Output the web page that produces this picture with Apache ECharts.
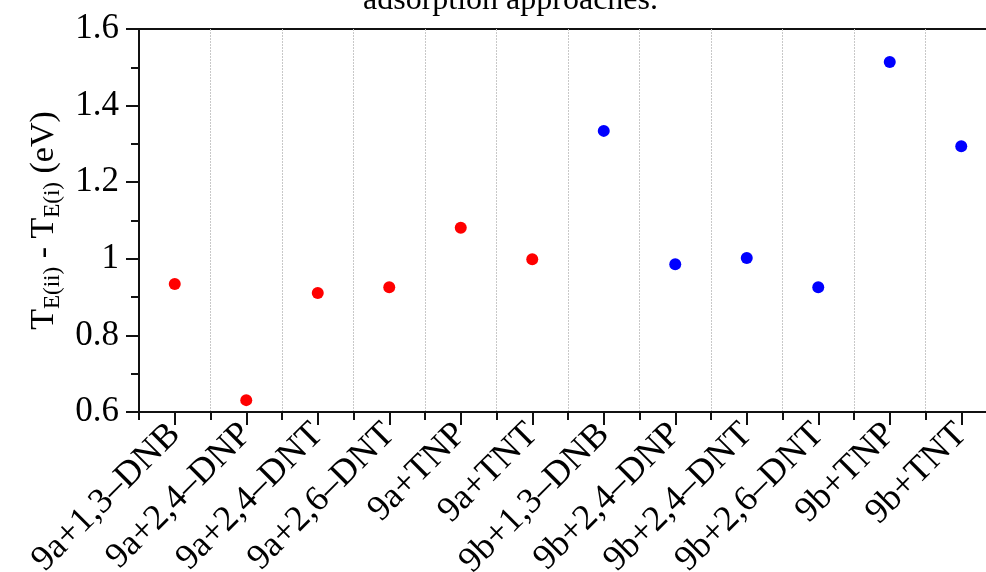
<!DOCTYPE html>
<html>
<head>
<meta charset="utf-8">
<script src="https://cdn.jsdelivr.net/npm/echarts@6/dist/echarts.min.js"></script>
<style>
  html, body { margin: 0; padding: 0; background: #fff; }
  #chart { width: 986px; height: 572px; }
</style>
</head>
<body>
<div id="chart"></div>
<script>
// Complexes of 9a and 9b with nitroaromatics
const categories = [
  '9a+1,3–DNB', '9a+2,4–DNP', '9a+2,4–DNT', '9a+2,6–DNT', '9a+TNP', '9a+TNT',
  '9b+1,3–DNB', '9b+2,4–DNP', '9b+2,4–DNT', '9b+2,6–DNT', '9b+TNP', '9b+TNT'
];
// Energy difference T_E(ii) - T_E(i), eV
const values9a = [0.934, 0.631, 0.911, 0.926, 1.081, 0.999];
const values9b = [1.334, 0.986, 1.002, 0.926, 1.514, 1.294];
const yTicks = { min: 0.6, max: 1.6, step: 0.2 };

const FONT = '"Liberation Serif", "Times New Roman", serif';

const pairs9a = values9a.map((v, i) => [categories[i], v]);
const pairs9b = values9b.map((v, i) => [categories[i + values9a.length], v]);

const chart = echarts.init(document.getElementById('chart'), null, { renderer: 'canvas' });

chart.setOption({
  animation: false,
  backgroundColor: '#ffffff',
  title: {
    text: 'adsorption approaches.',
    left: 358,
    top: -22,
    textStyle: { fontFamily: FONT, fontSize: 32, fontWeight: 'normal', color: '#000', lineHeight: 36 }
  },
  grid: {
    left: 139, top: 29, right: -11, bottom: 160,
    containLabel: false,
    outerBoundsMode: 'none',
    show: true, borderColor: '#111', borderWidth: 2, backgroundColor: 'transparent'
  },
  xAxis: [
    {
      // boundary ticks and dotted separators between categories
      type: 'category',
      data: categories,
      position: 'bottom',
      boundaryGap: true,
      axisLine: { show: true, lineStyle: { color: '#111', width: 2 } },
      axisTick: { show: true, interval: 0, length: 8, lineStyle: { color: '#111', width: 2 } },
      axisLabel: { show: false },
      splitLine: { show: true, interval: 0, lineStyle: { color: '#c8c8c8', width: 1, type: [2, 1] } }
    },
    {
      // centred ticks and rotated category labels
      type: 'category',
      data: categories,
      position: 'bottom',
      boundaryGap: true,
      axisLine: { show: false },
      axisTick: { show: true, interval: 0, alignWithLabel: true, length: 13, lineStyle: { color: '#111', width: 2 } },
      axisLabel: {
        interval: 0, rotate: 45, margin: 17,
        fontFamily: FONT, fontSize: 36, color: '#000'
      },
      splitLine: { show: false }
    }
  ],
  yAxis: {
    type: 'value',
    min: yTicks.min,
    max: yTicks.max,
    interval: yTicks.step,
    axisLine: { show: true, lineStyle: { color: '#111', width: 2 } },
    axisTick: { show: true, length: 13, lineStyle: { color: '#111', width: 2 } },
    minorTick: { show: true, splitNumber: 2, length: 8, lineStyle: { color: '#111', width: 2 } },
    splitLine: { show: false },
    axisLabel: {
      margin: 20, fontFamily: FONT, fontSize: 35, color: '#000',
      formatter: v => String(Math.round(v * 10) / 10)
    },
    name: '{m|T}{s|E(ii)}{m| - T}{s|E(i)}{m| (eV)}',
    nameLocation: 'middle',
    nameRotate: 90,
    nameGap: 74,
    nameTextStyle: {
      fontFamily: FONT, color: '#000',
      rich: {
        m: { fontFamily: FONT, fontSize: 34, color: '#000', lineHeight: 40, verticalAlign: 'middle' },
        s: { fontFamily: FONT, fontSize: 23, color: '#000', lineHeight: 24, verticalAlign: 'bottom' }
      }
    }
  },
  series: [
    {
      type: 'scatter',
      xAxisIndex: 1,
      data: pairs9a,
      symbol: 'circle',
      symbolSize: 12,
      itemStyle: { color: '#ff0000', opacity: 1 }
    },
    {
      type: 'scatter',
      xAxisIndex: 1,
      data: pairs9b,
      symbol: 'circle',
      symbolSize: 12,
      itemStyle: { color: '#0000ff', opacity: 1 }
    }
  ]
});
</script>
</body>
</html>
